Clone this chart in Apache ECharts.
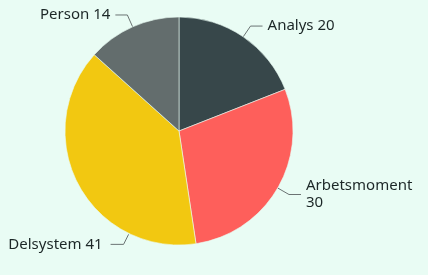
<!DOCTYPE html>
<html><head><meta charset="utf-8">
<script src="https://cdn.jsdelivr.net/npm/echarts@6/dist/echarts.min.js"></script>
<style>html,body{margin:0;padding:0;background:#e9fcf4;}#c{width:428px;height:275px;}</style>
</head><body><div id="c"></div>
<script>
const categories = ["Analys", "Arbetsmoment", "Delsystem", "Person"];
const values = [20, 30, 41, 14];
const colors = ["#37474a", "#fe5f5b", "#f2c811", "#636d6d"];
const CX = 179, CY = 131, R = 114;
const chart = echarts.init(document.getElementById('c'), null, {renderer:'canvas'});
chart.setOption({
  backgroundColor: '#e9fcf4',
  animation: false,
  color: colors,
  series: [{
    type: 'pie',
    center: [CX, CY],
    radius: [0, R],
    startAngle: 90,
    clockwise: true,
    data: categories.map((c,i)=>({name:c, value:values[i]})),
    itemStyle: {borderColor:'#e9fcf4', borderWidth:0.6},
    label: {
      formatter: p => p.name + ' ' + p.value,
      fontFamily: 'Noto Sans',
      fontSize: 15,
      color: '#1c2727',
      width: 115,
      overflow: 'break',
      lineHeight: 17
    },
    labelLine: {length: 13, length2: 12, lineStyle:{color:'#6b7373', width:1}},
    labelLayout: function (p) {
      if (p.dataIndex !== 2) return {};
      // label pushed down along the rim so it stays inside the canvas
      const a = 206 * Math.PI / 180;
      const p0 = [CX + (R + 1) * Math.sin(a), CY - (R + 1) * Math.cos(a)];
      const p1 = [p0[0] - 5, p0[1] + 10];
      const p2 = [p1[0] - 13, p1[1]];
      return {
        x: p2[0] - 8, y: p2[1], align: 'right', verticalAlign: 'middle',
        labelLinePoints: [p0, p1, p2]
      };
    }
  }]
});
</script></body></html>
